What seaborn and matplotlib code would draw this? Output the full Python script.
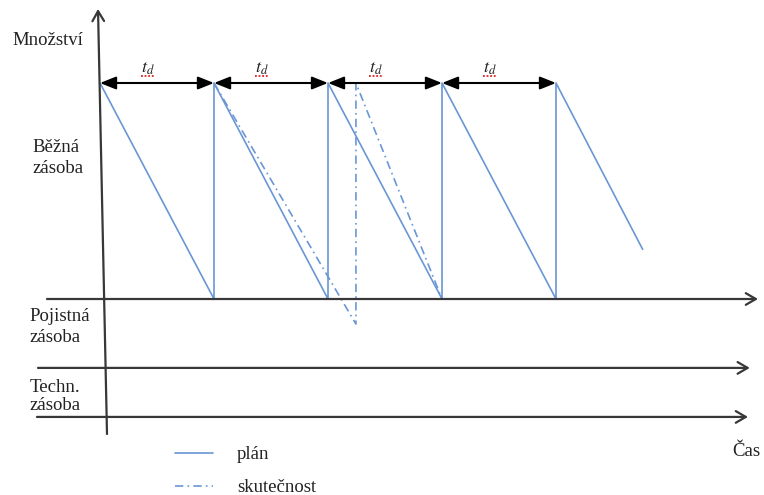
import numpy as np
import pandas as pd
import matplotlib
matplotlib.use("Agg")
import matplotlib.pyplot as plt
import seaborn as sns

# ---- data (time in ordering cycles, quantity in % of running stock) ----
plan_t = [0, 1, 1, 2, 2, 3, 3, 4, 4, 4.76]
plan_q = [100, 0, 100, 0, 100, 0, 100, 0, 100, 23]
actual_t = [1, 2.245, 2.245, 3]
actual_q = [100, -11.6, 100, 0]
cycle_starts = [0, 1, 2, 3]
cycle_label = "$t_d$"
safety_level = -31.9
tech_level = -54.6
series_names = ["plán", "skutečnost"]
level_labels = ["Běžná\nzásoba", "Pojistná\nzásoba", "Techn.\nzásoba"]
y_axis_label = "Množství"
x_axis_label = "Čas"

df = pd.DataFrame({
    "t": plan_t + actual_t,
    "q": plan_q + actual_q,
    "series": [series_names[0]] * len(plan_t) + [series_names[1]] * len(actual_t),
})

sns.set_theme(style="white")
plt.rcParams["font.family"] = ["Liberation Serif", "DejaVu Serif"]
plt.rcParams["mathtext.fontset"] = "stix"

fig = plt.figure(figsize=(7.64, 4.95), dpi=100)
ax = fig.add_axes([0, 0, 1, 1])
ax.set_xlim(-100 / 114, 664 / 114)
ax.set_ylim(-196 / 2.16, 299 / 2.16)
ax.axis("off")

blue = "#6a97d4"
dark = "#383838"
txt = "#222222"

sns.lineplot(data=df, x="t", y="q", hue="series", style="series",
             palette={series_names[0]: blue, series_names[1]: blue},
             dashes={series_names[0]: "", series_names[1]: (5, 2.5, 1, 2.5)},
             sort=False, estimator=None, lw=1.2, ax=ax, legend=True)

# axes-like arrows
ax_kw = dict(arrowstyle="->,head_length=0.6,head_width=0.35", color=dark,
             lw=1.6, shrinkA=0, shrinkB=0)
ax.annotate("", xy=(-0.0175, 134.3), xytext=(0.0614, -62.5), arrowprops=ax_kw)
ax.annotate("", xy=(5.772, 0), xytext=(-0.465, 0), arrowprops=ax_kw)
ax.annotate("", xy=(5.70, safety_level), xytext=(-0.544, safety_level), arrowprops=ax_kw)
ax.annotate("", xy=(5.684, tech_level), xytext=(-0.553, tech_level), arrowprops=ax_kw)

# cycle double arrows with t_d labels
top = max(plan_q)
for c in cycle_starts:
    ax.annotate("", xy=(c, top), xytext=(c + 1, top),
                arrowprops=dict(arrowstyle="<|-|>,head_length=0.8,head_width=0.32",
                                color="black", lw=1.5, shrinkA=0, shrinkB=0))
    xm = c + 0.5 - 0.08
    ax.text(xm, top + 6.5, cycle_label, fontsize=13, ha="center", va="center",
            color=txt)
    ax.plot([xm - 0.06, xm + 0.06], [top + 3.4, top + 3.4], color="#e02020",
            lw=1.3, ls=(0, (1, 1)))

fs = 13.5
ax.text(-0.772, 119.9, y_axis_label, fontsize=fs, ha="left", va="center", color=txt)
ax.text(-0.59, 65.3, level_labels[0], fontsize=fs, ha="left", va="center",
        color=txt, linespacing=1.28)
ax.text(-0.62, -13, level_labels[1], fontsize=fs, ha="left", va="center",
        color=txt, linespacing=1.28)
ax.text(-0.62, -45, level_labels[2], fontsize=fs, ha="left", va="center",
        color=txt, linespacing=1.05)
ax.text(5.55, -70.8, x_axis_label, fontsize=fs, ha="left", va="center", color=txt)

handles, labels = ax.get_legend_handles_labels()
leg = ax.legend(handles, labels, loc="upper left",
                bbox_to_anchor=(175 / 764, 1 - 446 / 495), bbox_transform=fig.transFigure,
                frameon=False, fontsize=fs, borderpad=0, borderaxespad=0,
                handlelength=2.0, handletextpad=1.3, labelspacing=0.85)
for t in leg.get_texts():
    t.set_color(txt)

fig.savefig("out.png", dpi=100)
